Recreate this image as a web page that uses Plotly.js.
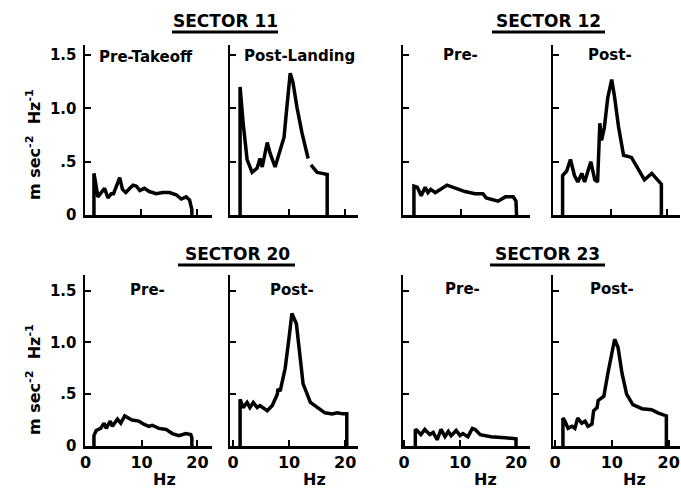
<!DOCTYPE html>
<html><head><meta charset="utf-8">
<script src="https://cdn.plot.ly/plotly-3.0.1.min.js"></script>
<style>html,body{margin:0;padding:0;background:#fff}</style>
</head><body><div id="chart" style="width:681px;height:491px"></div>
<script>
// ---- data (Hz, m sec^-2 Hz^-1) ----
const hzS11Pre  = [1.6,1.6,1.9,2.3,2.9,3.5,4.1,4.7,5.1,5.6,6.2,6.7,7.3,8.0,8.6,9.2,9.8,10.6,11.5,12.7,13.9,15.1,16.3,17.2,18.1,18.7,19.0,19.1,19.1];
const psdS11Pre = [0,0.39,0.30,0.17,0.21,0.25,0.16,0.20,0.20,0.26,0.35,0.24,0.21,0.25,0.28,0.27,0.23,0.25,0.22,0.20,0.21,0.21,0.19,0.15,0.17,0.14,0.09,0.05,0];

const hzS11Post  = [1.25,1.25,1.8,2.5,3.4,4.3,4.8,5.2,6.1,6.6,7.5,8.4,9.1,9.6,10.2,10.7,11.4,12.3,13.4,13.6,13.9,15.0,15.9,16.8,16.8];
const psdS11Post = [0,1.2,0.86,0.52,0.40,0.44,0.53,0.45,0.68,0.58,0.45,0.61,0.73,1.01,1.33,1.24,1.01,0.77,0.53,null,0.47,0.40,0.39,0.38,0];

const hzS12Pre  = [1.6,1.6,2.2,2.9,3.6,4.1,4.6,5.4,6.3,7.5,9.1,10.7,12.5,13.9,14.5,15.7,16.6,17.9,19.3,19.8,19.9,19.9];
const psdS12Pre = [0,0.27,0.26,0.18,0.26,0.21,0.24,0.21,0.24,0.28,0.25,0.22,0.20,0.20,0.16,0.14,0.13,0.17,0.17,0.13,0.05,0];

const hzS12Post  = [1.5,1.5,2.2,2.9,3.6,4.2,4.9,5.4,6.5,7.2,7.7,8.1,8.4,8.9,9.5,10.2,10.7,11.4,12.3,13.7,14.8,16.0,17.3,18.3,19.0,19.0];
const psdS12Post = [0,0.37,0.41,0.52,0.37,0.31,0.39,0.31,0.50,0.33,0.31,0.86,0.70,0.82,1.10,1.27,1.11,0.83,0.56,0.54,0.44,0.33,0.39,0.33,0.29,0];

const hzS20Pre  = [1.5,1.5,1.9,2.7,3.3,3.7,4.4,4.8,5.7,6.3,7.0,8.3,9.5,10.4,11.3,11.9,13.1,14.4,15.5,16.7,17.9,18.8,19.0,19.0];
const psdS20Pre = [0,0.10,0.15,0.17,0.22,0.17,0.24,0.19,0.26,0.22,0.29,0.25,0.24,0.21,0.19,0.20,0.17,0.16,0.12,0.10,0.12,0.11,0.08,0];

const hzS20Post  = [1.25,1.25,1.8,2.5,3.0,3.6,4.3,4.8,6.1,7.0,7.9,8.0,8.4,9.3,10.0,10.5,11.3,11.8,12.5,13.8,15.2,16.4,17.7,18.6,19.6,20.3,20.3];
const psdS20Post = [0,0.45,0.37,0.42,0.37,0.42,0.37,0.39,0.34,0.39,0.50,0.55,0.53,0.75,1.05,1.28,1.18,0.92,0.60,0.42,0.37,0.32,0.31,0.32,0.31,0.31,0];

const hzS23Pre  = [2.0,2.0,2.3,3.0,3.7,4.6,5.2,5.9,6.6,7.3,7.9,8.4,9.3,10.0,10.5,11.4,12.2,12.7,13.6,15.5,18.0,20.0,20.0];
const psdS23Pre = [0,0.16,0.15,0.11,0.16,0.11,0.13,0.06,0.16,0.09,0.14,0.10,0.15,0.10,0.12,0.09,0.17,0.16,0.11,0.09,0.08,0.07,0];

const hzS23Post  = [1.4,1.4,1.75,2.3,3.0,3.5,4.0,4.7,5.3,5.8,6.5,6.8,7.4,7.6,8.1,8.6,9.3,10.0,10.5,11.1,11.8,12.6,13.7,15.3,17.0,18.1,19.3,19.6,19.6];
const psdS23Post = [0,0.27,0.24,0.17,0.19,0.17,0.27,0.22,0.24,0.19,0.21,0.34,0.37,0.44,0.46,0.48,0.70,0.89,1.03,0.95,0.70,0.50,0.40,0.36,0.35,0.32,0.30,0.29,0];

const sectorNames = ['SECTOR 11','SECTOR 12','SECTOR 20','SECTOR 23'];
const panelNames  = ['Pre-Takeoff','Post-Landing','Pre-','Post-','Pre-','Post-','Pre-','Post-'];
const yTickVals = [0,0.5,1,1.5];
const yTickText = ['0','.5','1.0','1.5'];
const xTickVals = [0,10,20];
const xTickText = ['0','10','20'];
const yTitle = 'm\u00a0sec<sup>-2</sup>\u00a0\u00a0Hz<sup>-1</sup>';
const xTitle = 'Hz';

// ---- layout geometry ----
const W = 681, H = 491;
const FONT = 'DejaVu Sans';
const seriesX = [hzS11Pre,hzS11Post,hzS12Pre,hzS12Post,hzS20Pre,hzS20Post,hzS23Pre,hzS23Post];
const seriesY = [psdS11Pre,psdS11Post,psdS12Pre,psdS12Post,psdS20Pre,psdS20Post,psdS23Pre,psdS23Post];
const xDomPx = [[85,212],[230,358],[403,530],[553,680],[85,212],[230,358],[403,530],[553,680]];
const xRanges = [[0,22.7],[-0.55,22.3],[-0.35,22.3],[-0.2,22.3],[-0.1,22.6],[-0.55,22.3],[-0.2,22.5],[-0.35,22]];
const yDomPx = [[45,215],[275,446]];
const yRanges = [[0,1.594],[0,1.65]];

const px = v => v / W, py = v => 1 - v / H;
const traces = [];
const layout = {
  width: W, height: H, margin: {l:0,r:0,t:0,b:0},
  paper_bgcolor: '#fff', plot_bgcolor: '#fff', showlegend: false,
  font: {family: FONT, color: '#000', size: 15, weight: 700},
  annotations: [], shapes: []
};
for (let i = 0; i < 8; i++) {
  const n = i === 0 ? '' : String(i + 1);
  const row = i < 4 ? 0 : 1;
  const left = (i % 4) === 0;
  traces.push({x: seriesX[i], y: seriesY[i], xaxis: 'x' + n, yaxis: 'y' + n,
    type: 'scatter', mode: 'lines', connectgaps: false,
    line: {color: '#000', width: 3.5, shape: 'linear'}, hoverinfo: 'skip'});
  layout['xaxis' + n] = {
    domain: [px(xDomPx[i][0]), px(xDomPx[i][1])], range: xRanges[i], anchor: 'y' + n,
    showline: true, linecolor: '#000', linewidth: 2.5, showgrid: false, zeroline: false,
    ticks: 'inside', ticklen: 6, tickwidth: 2, tickcolor: '#000',
    tickmode: 'array', tickvals: row === 0 ? [10,20] : xTickVals, ticktext: row === 0 ? ['10','20'] : xTickText,
    showticklabels: row === 1, tickfont: {family: FONT, size: 16, weight: 700, color: '#000'}
  };
  layout['yaxis' + n] = {
    domain: [py(yDomPx[row][1]), py(yDomPx[row][0])], range: yRanges[row], anchor: 'x' + n,
    showline: true, linecolor: '#000', linewidth: 2.5, showgrid: false, zeroline: false,
    ticks: 'inside', ticklen: 6, tickwidth: 2, tickcolor: '#000',
    tickmode: 'array', tickvals: yTickVals, ticktext: yTickText,
    showticklabels: left, ticklabelstandoff: 3, tickfont: {family: FONT, size: 15, weight: 700, color: '#000'}
  };
}
// panel labels
const panelPos = [[97,57,'left'],[242,56,'left'],[460,55,'center'],[610,55,'center'],
                  [147,290,'center'],[292,290,'center'],[463,289,'center'],[612,289,'center']];
panelNames.forEach((t, i) => layout.annotations.push({text: t, xref: 'paper', yref: 'paper',
  x: px(panelPos[i][0]), y: py(panelPos[i][1]), xanchor: panelPos[i][2], yanchor: 'middle',
  showarrow: false, font: {family: FONT, size: 15, weight: 700, color: '#000'}}));
// sector titles with underline
const secPos = [[225,21,172,278,32],[548,21,492,605,32],[237,254,178,295,265],[547,254,490,605,265]];
sectorNames.forEach((t, i) => {
  layout.annotations.push({text: t, xref: 'paper', yref: 'paper', x: px(secPos[i][0]), y: py(secPos[i][1]),
    xanchor: 'center', yanchor: 'middle', showarrow: false, font: {family: FONT, size: 17, weight: 700, color: '#000'}});
  layout.shapes.push({type: 'line', xref: 'paper', yref: 'paper', x0: px(secPos[i][2]), x1: px(secPos[i][3]),
    y0: py(secPos[i][4]), y1: py(secPos[i][4]), line: {color: '#000', width: 3}});
});
// y titles
[145, 380].forEach(yc => layout.annotations.push({text: yTitle, xref: 'paper', yref: 'paper',
  x: px(33), y: py(yc), xanchor: 'center', yanchor: 'middle', textangle: -90, showarrow: false,
  font: {family: FONT, size: 16, weight: 700, color: '#000'}}));
// x titles
[164, 314, 485, 634].forEach(xc => layout.annotations.push({text: xTitle, xref: 'paper', yref: 'paper',
  x: px(xc), y: py(479), xanchor: 'center', yanchor: 'middle', showarrow: false,
  font: {family: FONT, size: 16, weight: 700, color: '#000'}}));

Plotly.newPlot('chart', traces, layout, {staticPlot: true, displayModeBar: false});
</script></body></html>
